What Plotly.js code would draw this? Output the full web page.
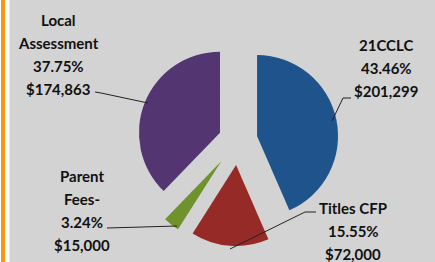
<!DOCTYPE html>
<html><head><meta charset="utf-8">
<script src="https://cdn.plot.ly/plotly-3.0.1.min.js"></script>
<style>html,body{margin:0;padding:0;overflow:hidden;background:#d3d3d3}</style>
</head><body><div id="chart" style="width:435px;height:262px"></div>
<script>
// ---- data ----
const categories = ["21CCLC", "Titles CFP", "Parent Fees-", "Local Assessment"];
const values = [201299, 72000, 15000, 174863];
const labelNameLines = [["21CCLC"], ["Titles CFP"], ["Parent", "Fees-"], ["Local", "Assessment"]];

// ---- style / layout ----
const colors = ["#1f538b", "#962a27", "#6f922d", "#533671"];
const pulls = [0.24, 0.31, 0.33, 0.24];
const W = 435, H = 262;
const labelPos = [[386, 45], [353, 208], [82, 176], [58, 20]]; // pixel centers of first line
const lineStep = 23;
const leaders = [
  [[351, 98], [343, 98], [332, 121]],
  [[316, 212], [305, 212], [230, 249]],
  [[107, 228], [177, 226]],
  [[95, 92], [101, 93], [148, 103]]
];
const px = x => x / W, py = y => 1 - y / H;

const total = values.reduce((a, b) => a + b, 0);
const annotations = [];
categories.forEach((c, i) => {
  const pct = (values[i] / total * 100).toFixed(2) + '%';
  const money = '$' + values[i].toLocaleString('en-US');
  const lines = labelNameLines[i].concat([pct, money]);
  lines.forEach((t, k) => {
    annotations.push({
      xref: 'paper', yref: 'paper', x: px(labelPos[i][0]), y: py(labelPos[i][1] + k * lineStep),
      xanchor: 'center', yanchor: 'middle', showarrow: false, text: t,
      font: {family: 'Lato, Carlito, sans-serif', size: 15, color: '#111', weight: 'bold'}
    });
  });
});

const shapes = [
  {type: 'rect', xref: 'paper', yref: 'paper', x0: 0, x1: px(9.5), y0: 0, y1: 1, fillcolor: '#ffffff', line: {width: 0}, layer: 'below'},
  {type: 'rect', xref: 'paper', yref: 'paper', x0: px(1), x1: px(5), y0: 0, y1: 1, fillcolor: '#f59a0c', line: {width: 0}, layer: 'below'}
];
leaders.forEach(pts => {
  const d = pts.map((p, k) => (k ? 'L' : 'M') + px(p[0]) + ',' + py(p[1])).join(' ');
  shapes.push({type: 'path', xref: 'paper', yref: 'paper', path: d, line: {color: '#222', width: 1}});
});

// pie center (238,140), radius ~81, max pull 0.33
const half = 81 * 1.33;
const cx = 238, cy = 140;

Plotly.newPlot('chart', [{
  type: 'pie', labels: categories, values: values, sort: false, direction: 'clockwise', rotation: 0,
  pull: pulls, marker: {colors: colors, line: {width: 0}}, textinfo: 'none', hoverinfo: 'label+value+percent',
  domain: {x: [px(cx - half), px(cx + half)], y: [py(cy + half), py(cy - half)]}
}], {
  width: W, height: H, margin: {l: 0, r: 0, t: 0, b: 0},
  paper_bgcolor: '#d3d3d3', showlegend: false, annotations: annotations, shapes: shapes
}, {displayModeBar: false, staticPlot: true});
</script></body></html>
